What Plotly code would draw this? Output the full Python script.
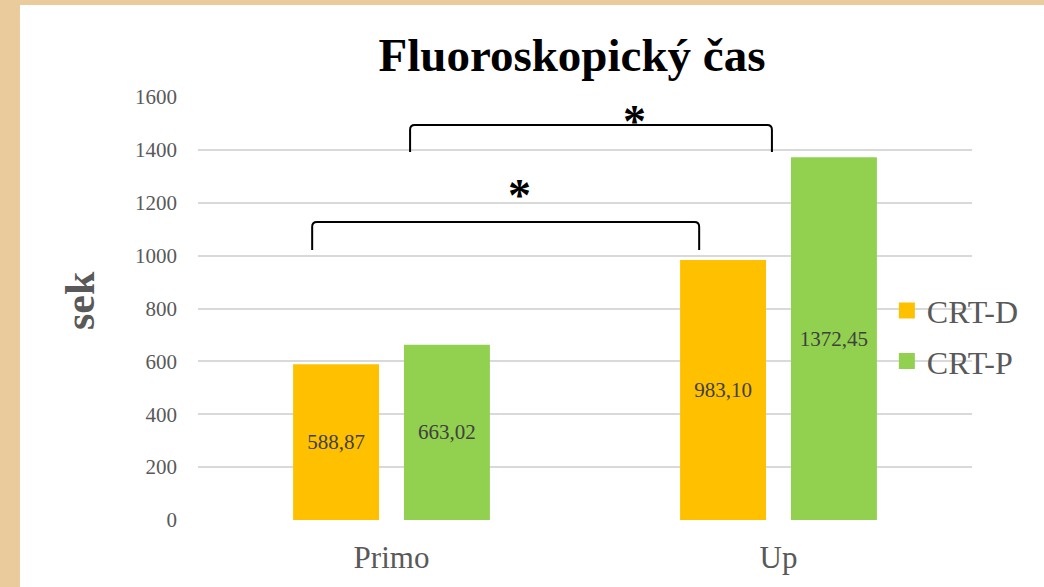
import plotly.graph_objects as go

categories = ["Primo", "Up"]
series_names = ["CRT-D", "CRT-P"]
crt_d = [588.87, 983.10]
crt_p = [663.02, 1372.45]
colors = ["#FFC000", "#92D050"]
y_ticks = [0, 200, 400, 600, 800, 1000, 1200, 1400, 1600]

FONT = "Liberation Serif"
x_pos = list(range(len(categories)))


def fmt(v):
    return f"{v:.2f}".replace(".", ",")


fig = go.Figure()
for name, vals, col in zip(series_names, [crt_d, crt_p], colors):
    fig.add_trace(go.Bar(
        x=x_pos, y=vals, name=name, marker=dict(color=col, line=dict(width=0)),
        text=[fmt(v) for v in vals], textposition="inside", insidetextanchor="middle",
        textangle=0, textfont=dict(family=FONT, size=21, color="#404040"),
        hoverinfo="skip", showlegend=False,
    ))
# legend entries with larger square swatches
for name, col in zip(series_names, colors):
    fig.add_trace(go.Scatter(
        x=[None], y=[None], mode="markers", name=name, legendgroup=name,
        marker=dict(symbol="square", size=16, color=col), showlegend=True,
    ))


def bracket(x0, x1, ybot, ytop, r_x=0.012, r_y=18):
    return (f"M{x0},{ybot} L{x0},{ytop - r_y} Q{x0},{ytop} {x0 + r_x},{ytop} "
            f"L{x1 - r_x},{ytop} Q{x1},{ytop} {x1},{ytop - r_y} L{x1},{ybot}")


shapes = [
    dict(type="rect", xref="paper", yref="paper", x0=-0.23, x1=1.1, y0=-0.2, y1=1.2175,
         fillcolor="white", line=dict(width=0), layer="below"),
    dict(type="path", xref="x", yref="y", path=bracket(-0.205, 0.795, 1021, 1127),
         line=dict(color="black", width=2)),
    dict(type="path", xref="x", yref="y", path=bracket(0.048, 0.983, 1392, 1494),
         line=dict(color="black", width=2)),
]

annotations = [
    dict(text="<b>*</b>", x=0.33, y=1229, xref="x", yref="y", showarrow=False,
         font=dict(family=FONT, size=46, color="black"), yanchor="middle"),
    dict(text="<b>*</b>", x=0.627, y=1507, xref="x", yref="y", showarrow=False,
         font=dict(family=FONT, size=46, color="black"), yanchor="middle"),
    dict(text="<b>sek</b>", x=-0.1525, y=0.52, xref="paper", yref="paper", showarrow=False,
         textangle=-90, xanchor="center", yanchor="middle",
         font=dict(family=FONT, size=42, color="#595959")),
]

fig.update_layout(
    width=1044, height=587,
    margin=dict(l=198, r=72, t=97, b=67),
    paper_bgcolor="#EACB9B",
    plot_bgcolor="rgba(0,0,0,0)",
    title=dict(text="<b>Fluoroskopický čas</b>", x=572 / 1044, xref="container", xanchor="center",
               y=1 - 55 / 587, yref="container", yanchor="middle",
               font=dict(family=FONT, size=47, color="black")),
    barmode="group", bargap=0.427, bargroupgap=0.225,
    showlegend=True,
    legend=dict(x=0.89, y=0.56, xanchor="left", yanchor="top", bgcolor="rgba(0,0,0,0)",
                font=dict(family=FONT, size=32, color="#595959"), itemwidth=30,
                traceorder="grouped", tracegroupgap=6),
    shapes=shapes, annotations=annotations,
)
fig.update_xaxes(range=[-0.5, 1.5], tickvals=x_pos, ticktext=categories, showgrid=False,
                 zeroline=False, showline=False, ticks="", ticklabelstandoff=16,
                 tickfont=dict(family=FONT, size=31, color="#595959"))
fig.update_yaxes(range=[0, 1600], tickvals=y_ticks, showgrid=True, gridcolor="#D9D9D9",
                 gridwidth=1.5, zeroline=False, showline=False, ticks="", ticklabelstandoff=20,
                 tickfont=dict(family=FONT, size=21, color="#595959"))

fig.write_html("out.html", post_script="document.body.style.margin='0';",
               config={"displayModeBar": False})
